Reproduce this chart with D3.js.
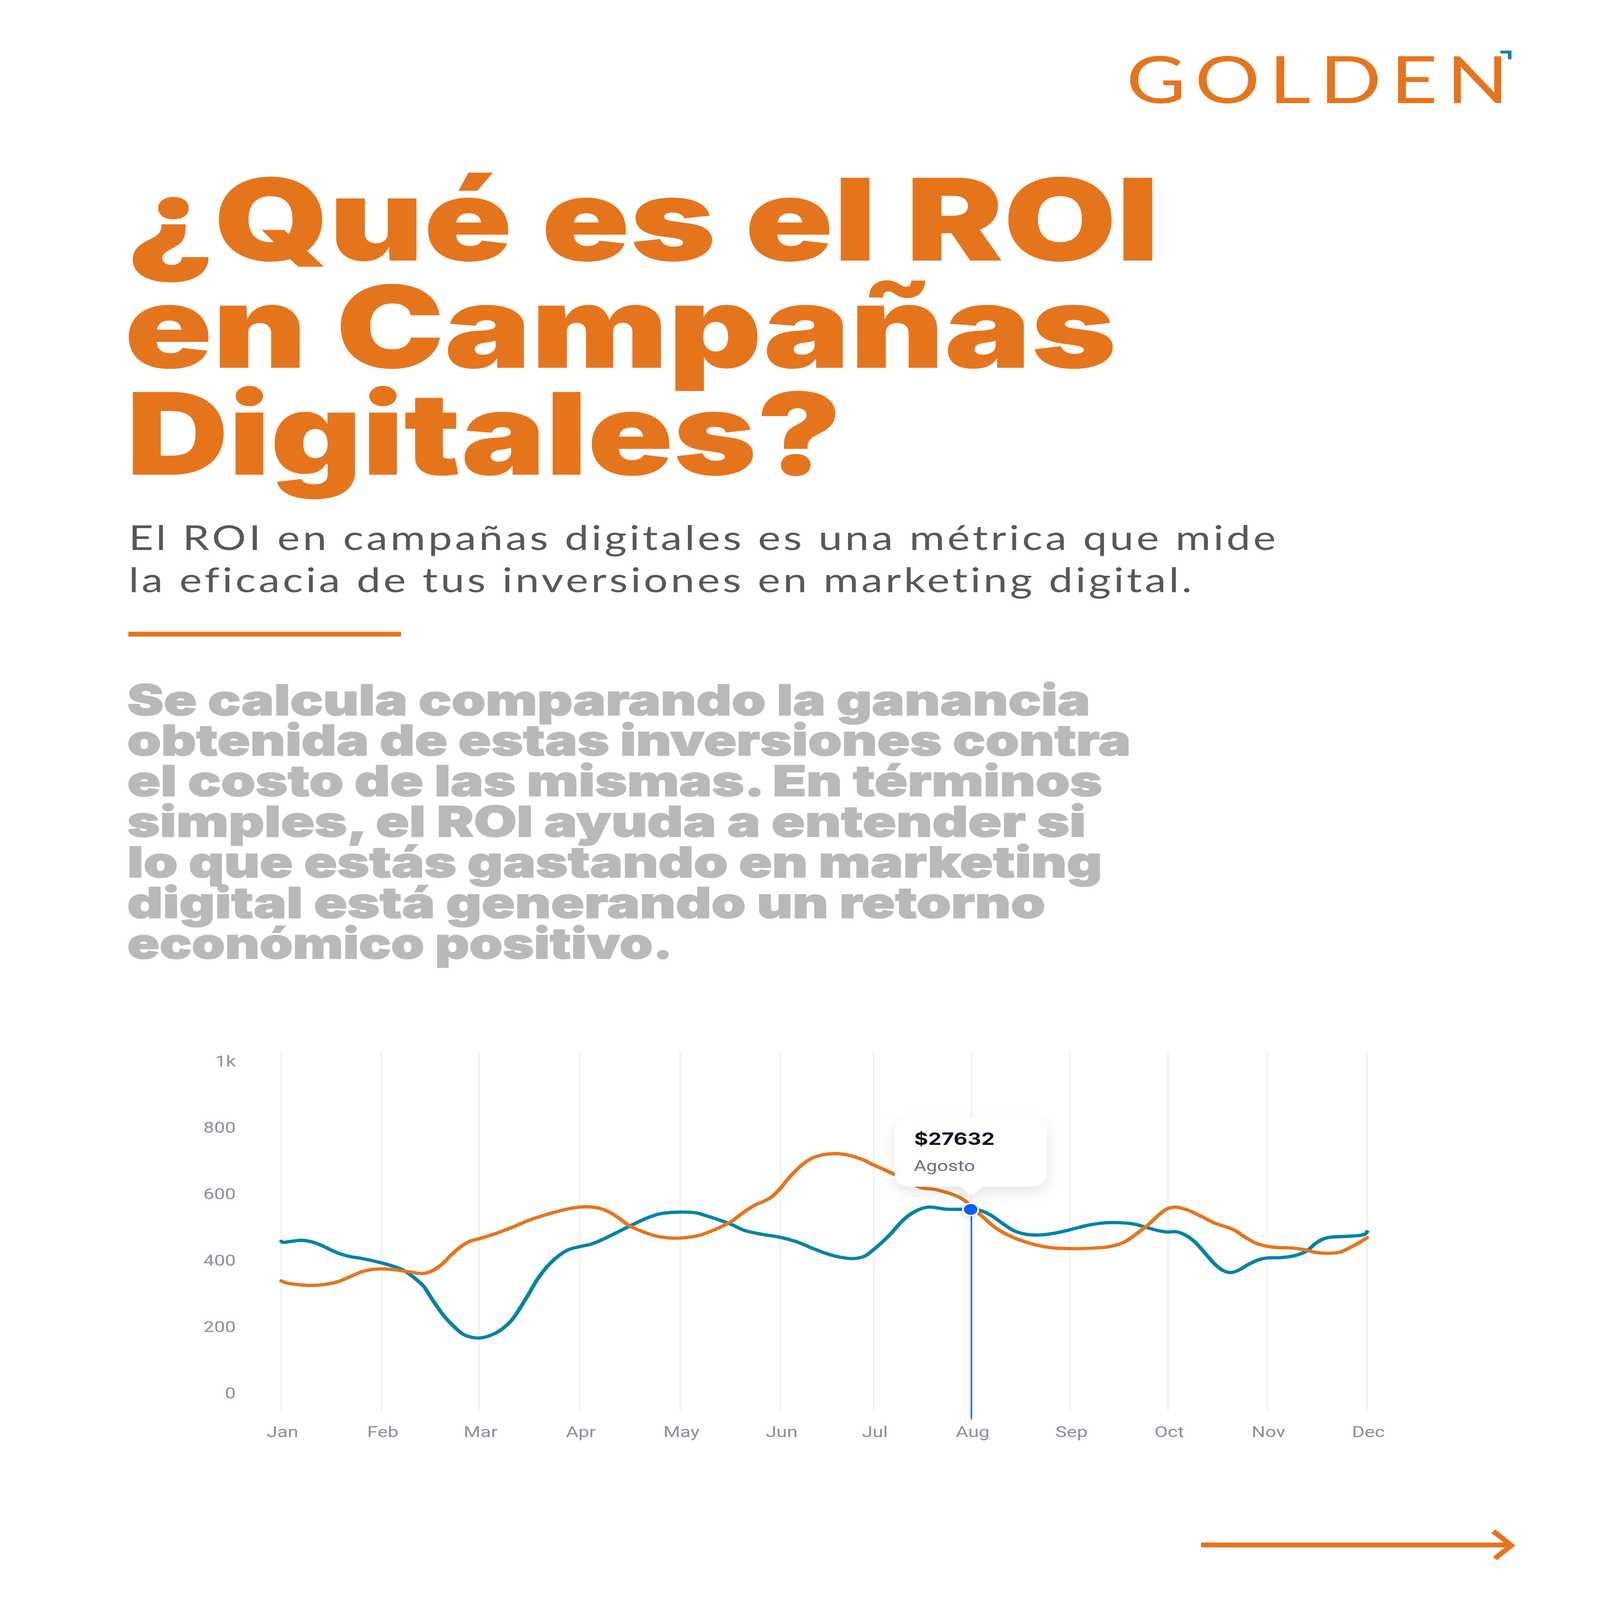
<!DOCTYPE html>
<html>
<head>
<meta charset="utf-8">
<script src="https://cdnjs.cloudflare.com/ajax/libs/d3/7.8.5/d3.min.js"></script>
<style>
	html, body { margin: 0; padding: 0; background: #fff; width: 100%; height: 100%; overflow: hidden; }
	svg { display: block; width: 100vw; height: 100vh; font-variant-ligatures: none; }
</style>
</head>
<body>
<svg viewBox="0 0 4500 5625" preserveAspectRatio="none"></svg>
<script>
const months = ['Jan', 'Feb', 'Mar', 'Apr', 'May', 'Jun', 'Jul', 'Aug', 'Sep', 'Oct', 'Nov', 'Dec'];
const yTicks = [0, 200, 400, 600, 800, 1000];

// values, month position is fractional
const tealMonths = [0, 0.02, 0.1, 0.2, 0.3, 0.4, 0.51, 0.6, 0.69, 0.81, 1, 1.15, 1.23, 1.34, 1.43, 1.51, 1.64, 1.75, 1.85, 2, 2.15, 2.3, 2.46, 2.58, 2.68, 2.79, 2.89, 3, 3.12, 3.26, 3.4, 3.5, 3.67, 3.8, 4, 4.15, 4.27, 4.5, 4.64, 4.8, 5, 5.17, 5.38, 5.58, 5.78, 5.9, 6, 6.16, 6.31, 6.43, 6.56, 6.74, 7, 7.09, 7.2, 7.31, 7.43, 7.54, 7.68, 7.85, 8, 8.19, 8.37, 8.51, 8.65, 8.79, 8.92, 9, 9.08, 9.16, 9.26, 9.36, 9.47, 9.55, 9.63, 9.71, 9.82, 9.93, 10, 10.14, 10.29, 10.4, 10.49, 10.59, 10.79, 10.93, 10.98, 11];
const tealValues = [458, 455, 458, 461, 457, 446, 430, 419, 412, 406, 393, 380, 370, 347, 323, 287, 233, 199, 176, 167, 180, 213, 283, 344, 383, 414, 433, 442, 450, 468, 489, 504, 528, 541, 546, 544, 534, 510, 491, 480, 470, 457, 433, 414, 406, 413, 433, 476, 524, 549, 561, 555, 554, 551, 536, 513, 490, 480, 477, 483, 493, 507, 514, 514, 510, 499, 489, 486, 487, 479, 459, 427, 390, 371, 364, 371, 390, 404, 408, 409, 416, 430, 453, 468, 473, 476, 480, 487];

const orangeMonths = [0, 0.05, 0.16, 0.29, 0.43, 0.57, 0.69, 0.81, 0.9, 1, 1.12, 1.29, 1.42, 1.51, 1.61, 1.71, 1.82, 1.92, 2, 2.14, 2.31, 2.51, 2.72, 2.89, 3, 3.08, 3.19, 3.29, 3.4, 3.5, 3.63, 3.76, 3.9, 4, 4.19, 4.35, 4.5, 4.64, 4.75, 4.83, 4.91, 5, 5.1, 5.24, 5.37, 5.58, 5.75, 5.88, 6, 6.21, 6.48, 6.63, 6.8, 6.88, 6.97, 7, 7.08, 7.23, 7.37, 7.57, 7.78, 8, 8.19, 8.4, 8.54, 8.68, 8.79, 8.92, 9, 9.08, 9.19, 9.33, 9.47, 9.58, 9.66, 9.77, 9.88, 10, 10.12, 10.25, 10.37, 10.48, 10.59, 10.72, 10.86, 11];
const orangeValues = [339, 333, 328, 325, 328, 337, 352, 367, 373, 375, 373, 366, 361, 368, 387, 416, 444, 460, 466, 479, 498, 523, 543, 556, 561, 562, 558, 547, 526, 504, 487, 474, 468, 468, 476, 494, 516, 547, 568, 578, 591, 618, 652, 690, 712, 722, 716, 704, 688, 660, 620, 614, 600, 590, 571, 558, 541, 502, 477, 454, 440, 436, 437, 442, 454, 481, 506, 541, 557, 561, 553, 534, 513, 502, 493, 472, 453, 443, 439, 438, 433, 425, 422, 425, 444, 469];

const selectedMonth = 7;
const selectedValue = 554;
const tooltipValue = '$27632';
const tooltipLabel = 'Agosto';

const titleLines = ['¿Qué es el ROI', 'en Campañas', 'Digitales?'];
const subtitleLines = ['El ROI en campañas digitales es una métrica que mide', 'la eficacia de tus inversiones en marketing digital.'];
const bodyLines = ['Se calcula comparando la ganancia', 'obtenida de estas inversiones contra', 'el costo de las mismas. En términos', 'simples, el ROI ayuda a entender si', 'lo que estás gastando en marketing', 'digital está generando un retorno', 'económico positivo.'];

const ORANGE = '#e5751d';
const TEAL = '#0083a6';
const BLUE = '#0a5cff';
const AXIS_GREY = '#8f8f9b';

const svg = d3.select('svg');

// text block: x start, widths measured on the reference
function textBlock(lines, opts) {
	svg.append('g').selectAll('text').data(lines)
		.enter().append('text')
			.attr('x', (d, i) => opts.x[i])
			.attr('y', (d, i) => opts.y[i])
			.attr('textLength', (d, i) => opts.w[i])
			.attr('lengthAdjust', opts.adjust)
			.attr('font-family', opts.family)
			.attr('font-weight', opts.weight)
			.attr('font-size', opts.size)
			.attr('fill', opts.fill)
			.attr('stroke', opts.stroke || 'none')
			.attr('stroke-width', opts.strokeWidth || 0)
			.text(d => d);
}

textBlock(titleLines, {
	x: [355, 350, 355], y: [916, 1293, 1669], w: [2905, 2790, 2012],
	family: 'Inter', adjust: 'spacingAndGlyphs',
	size: 400, weight: 900, fill: ORANGE
});
textBlock(subtitleLines, {
	x: [362, 362], y: [1934, 2082], w: [3226, 2990],
	family: 'Lato', adjust: 'spacing',
	size: 120, weight: 400, fill: '#58585a'
});
textBlock(bodyLines, {
	x: [358, 358, 358, 358, 358, 358, 358], y: [2515, 2656, 2799, 2941, 3085, 3227, 3370],
	w: [2708, 2822, 2742, 2696, 2742, 2582, 1534],
	family: 'Inter', adjust: 'spacingAndGlyphs',
	size: 150, weight: 900, fill: '#b9b9b9', stroke: '#b9b9b9', strokeWidth: 3
});

// rule under subtitle
svg.append('rect')
	.attr('x', 361).attr('y', 2221)
	.attr('width', 767).attr('height', 17)
	.attr('fill', ORANGE);

// logo
svg.append('text')
	.attr('x', 3168).attr('y', 363)
	.attr('textLength', 1075)
	.attr('font-family', 'Lato')
	.attr('font-size', 229)
	.attr('fill', ORANGE)
	.text('GOLDEN');
svg.append('path')
	.attr('d', 'M4220 183H4246V208')
	.attr('fill', 'none')
	.attr('stroke', TEAL)
	.attr('stroke-width', 10);

// chart
const x = d3.scaleLinear()
	.domain(d3.range(12))
	.range([791, 1073, 1348, 1630, 1913, 2195, 2457, 2732, 3010, 3285, 3564, 3845]);
const y = d3.scaleLinear().domain([0, 1000]).range([4899, 3731]);

const gridTop = 3695;
const gridBottom = 4959;

svg.append('g').selectAll('line').data(d3.range(12))
	.enter().append('line')
		.attr('x1', d => x(d)).attr('x2', d => x(d))
		.attr('y1', gridTop).attr('y2', gridBottom)
		.attr('stroke', '#eeeef1')
		.attr('stroke-width', 3.5);

const yAxis = svg.append('g')
	.attr('transform', 'translate(663, 0)')
	.call(d3.axisLeft(y)
		.tickValues(yTicks)
		.tickFormat(d => d === 1000 ? '1k' : d)
		.tickSize(0)
		.tickPadding(0));
const xAxis = svg.append('g')
	.attr('transform', 'translate(3, 4990)')
	.call(d3.axisBottom(x)
		.tickValues(d3.range(12))
		.tickFormat(i => months[i])
		.tickSize(0)
		.tickPadding(24));

[yAxis, xAxis].forEach(axis => {
	axis.select('.domain').remove();
	axis.selectAll('text')
		.attr('font-family', 'Roboto')
		.attr('font-size', 54)
		.attr('fill', AXIS_GREY);
});

const line = d3.line()
	.x(d => x(d[0]))
	.y(d => y(d[1]))
	.curve(d3.curveCatmullRom.alpha(0.5));

svg.append('path')
	.attr('d', line(d3.zip(tealMonths, tealValues)))
	.attr('fill', 'none')
	.attr('stroke', TEAL)
	.attr('stroke-width', 11.5)
	.attr('stroke-linecap', 'round');
svg.append('path')
	.attr('d', line(d3.zip(orangeMonths, orangeValues)))
	.attr('fill', 'none')
	.attr('stroke', ORANGE)
	.attr('stroke-width', 11.5)
	.attr('stroke-linecap', 'round');

// tooltip
const defs = svg.append('defs');
const shadow = defs.append('filter')
	.attr('id', 'tipShadow')
	.attr('x', '-30%').attr('y', '-30%')
	.attr('width', '160%').attr('height', '170%');
shadow.append('feDropShadow')
	.attr('dx', 0).attr('dy', 18)
	.attr('stdDeviation', 22)
	.attr('flood-color', '#000')
	.attr('flood-opacity', 0.1);
const dotShadow = defs.append('filter')
	.attr('id', 'dotShadow')
	.attr('x', '-60%').attr('y', '-60%')
	.attr('width', '220%').attr('height', '220%');
dotShadow.append('feDropShadow')
	.attr('dx', 0).attr('dy', 6)
	.attr('stdDeviation', 8)
	.attr('flood-color', '#000')
	.attr('flood-opacity', 0.14);

const px = x(selectedMonth);
const py = y(selectedValue);

// marker line and dot
svg.append('line')
	.attr('x1', px).attr('x2', px)
	.attr('y1', py).attr('y2', 4990)
	.attr('stroke', BLUE)
	.attr('stroke-width', 4);

const tipL = 2516, tipR = 2944, tipT = 3929, tipB = 4172, tipR0 = 45;
const tip = d3.path();
tip.moveTo(tipL + tipR0, tipT);
tip.lineTo(tipR - tipR0, tipT);
tip.arcTo(tipR, tipT, tipR, tipT + tipR0, tipR0);
tip.lineTo(tipR, tipB - tipR0);
tip.arcTo(tipR, tipB, tipR - tipR0, tipB, tipR0);
tip.lineTo(px + 30, tipB);
tip.lineTo(px + 8, 4197);
tip.quadraticCurveTo(px, 4204, px - 8, 4197);
tip.lineTo(px - 30, tipB);
tip.lineTo(tipL + tipR0, tipB);
tip.arcTo(tipL, tipB, tipL, tipB - tipR0, tipR0);
tip.lineTo(tipL, tipT + tipR0);
tip.arcTo(tipL, tipT, tipL + tipR0, tipT, tipR0);
tip.closePath();

svg.append('path')
	.attr('d', tip.toString())
	.attr('fill', '#fff')
	.attr('filter', 'url(#tipShadow)');

svg.append('text')
	.attr('x', 2571).attr('y', 4025)
	.attr('font-family', 'Inter')
	.attr('font-weight', 700)
	.attr('font-size', 60)
	.attr('fill', '#14142b')
	.text(tooltipValue);
svg.append('text')
	.attr('x', 2570).attr('y', 4117)
	.attr('font-family', 'Roboto')
	.attr('font-size', 54)
	.attr('fill', '#6e6e7a')
	.text(tooltipLabel);

svg.append('circle')
	.attr('cx', px - 2).attr('cy', py)
	.attr('r', 24)
	.attr('fill', '#fff')
	.attr('filter', 'url(#dotShadow)');
svg.append('circle')
	.attr('cx', px - 2).attr('cy', py)
	.attr('r', 19)
	.attr('fill', BLUE);

// arrow bottom right
svg.append('rect')
	.attr('x', 3378).attr('y', 5423)
	.attr('width', 870).attr('height', 17)
	.attr('fill', ORANGE);
svg.append('path')
	.attr('d', 'M4206 5377L4262 5433L4210 5485L4199 5473L4240 5433L4194 5389Z')
	.attr('fill', ORANGE);
</script>
</body>
</html>
